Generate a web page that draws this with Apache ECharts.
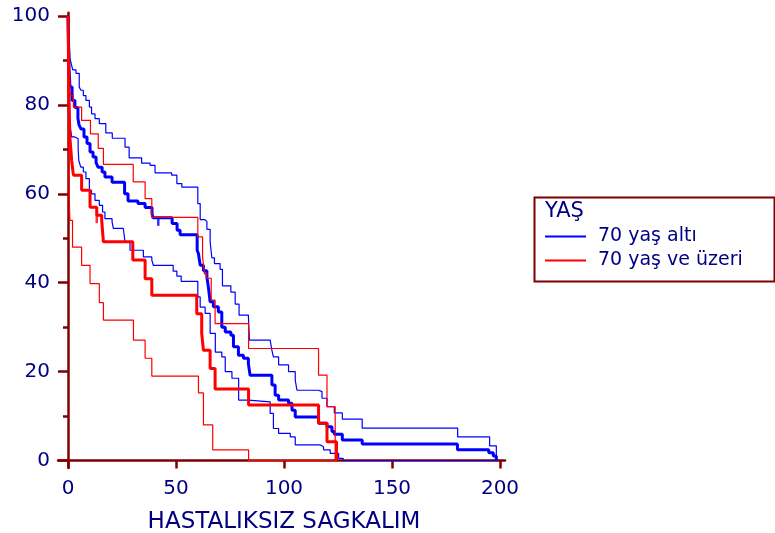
<!DOCTYPE html>
<html><head><meta charset="utf-8">
<script src="https://cdn.jsdelivr.net/npm/echarts@6/dist/echarts.min.js"></script>
<style>html,body{margin:0;padding:0;background:#fff}#c{width:775px;height:533px}</style>
</head><body><div id="c"></div>
<script>
// ---- labels ----
const groupNames = ['70 yaş altı', '70 yaş ve üzeri'];
const legendTitle = 'YAŞ';
const xAxisTitle = 'HASTALIKSIZ SAGKALIM';
const xTickValues = [0, 50, 100, 150, 200];
const yTickValues = [0, 20, 40, 60, 80, 100];

// ---- Kaplan-Meier estimates [time, survival %] (value after each step) ----
const blueKM = [[0,100],[0.5,88],[0.9,84],[1.9,81],[3.2,79.4],[4.6,77],[5.1,75.5],[6,74.6],[7.4,72.8],[8.8,71.3],[10.2,69.4],[11.6,68.3],[13,67],[13.9,66],[15.8,64.9],[17.1,63.8],[20.4,62.6],[26.2,60],[27.8,58.4],[32.4,57.8],[35.7,56.9],[38.9,55.5],[39.4,54.6],[48.2,53.3],[50.5,51.8],[51.9,50.8],[59.8,47.3],[60.4,46.5],[61.2,43.9],[62.7,42.7],[64.3,41.3],[65,39],[65.8,35.7],[67.3,34.6],[69.6,33.4],[71.2,30],[72.8,28.9],[75.4,28.2],[76.6,25.6],[78.9,23.7],[81.2,23],[83.5,21.8],[84.3,19.2],[94.4,17],[95.9,14.7],[97.5,13.6],[102.1,12.9],[103.7,11.3],[105.2,9.8],[116,8.4],[119.9,7.6],[122.2,6.5],[123.3,5.9],[127,4.6],[136.2,3.7],[180.3,2.4],[194.8,1.75],[196.9,1],[198.3,0]];
const blueUpper = [[0,100],[0.9,90.4],[1.5,89.3],[2.2,87.9],[3.7,87.1],[5.2,84],[6,83.3],[7.1,82.1],[8.3,81],[9.9,79.5],[10.9,78],[12.5,76.9],[14.5,75.8],[17.5,73.7],[20.5,72.5],[26.4,70.5],[28.3,68.1],[34.1,66.9],[38,66.4],[40.3,64.7],[48,64.2],[50.4,62.3],[52.7,61.5],[60.1,57.8],[61.2,54.2],[63.2,53.8],[64.3,52],[65.8,49.2],[66.6,45.6],[67.8,44.3],[70.4,43],[71.5,39.3],[75.4,37.9],[77.4,35.2],[79.2,32.7],[83.5,32.3],[84,27.1],[93.6,26.7],[94.4,24.8],[95.1,23.3],[97.5,21.5],[102.1,20],[105.2,18.1],[106,15.8],[116,15.5],[117.6,14],[119.9,12.1],[123.3,10.7],[127,9.3],[136.2,7.3],[180.4,5.3],[195.2,3.3],[198.3,0]];
const blueLower = [[0,100],[0.9,75.4],[1.7,72.8],[3.2,72.4],[4.7,70.2],[5,67.5],[5.9,66],[7.1,64.9],[8.3,63.4],[9.9,60.8],[10.9,60],[12.5,58.5],[14.5,57.4],[16,55.9],[17.1,54.4],[20.4,53.7],[21,52.2],[25.6,51.8],[26.4,49.2],[28.7,47.3],[34.9,45.8],[38.8,45.1],[39.5,43.9],[48.7,42.6],[50.4,41.5],[52.4,40.3],[60.1,36.8],[61.2,34.5],[63.5,33.1],[65.8,28.6],[68.2,24.4],[71.2,23.3],[72.8,20],[75.9,18.5],[79,13.6],[83.5,13.2],[93.6,10.6],[95.1,7.2],[97.5,6.1],[102.9,5.3],[105.2,3.5],[116.8,3.1],[118.3,2.4],[121.4,1.6],[125.3,0.5],[127.4,0],[198.3,0]];
const redKM = [[0,100],[0.5,80],[0.9,72.5],[1.7,67.5],[2.5,64.2],[6.3,60.8],[10.2,57],[13.3,55.2],[15.6,54],[16.4,49.2],[30,45.1],[35.7,40.9],[38.8,37.2],[59.6,33],[61.9,28.6],[62.7,24.8],[65.8,20.7],[68.1,16.1],[83.6,12.5],[116,8.4],[119.9,4.2],[124.3,0]];
const redUpper = [[0,100],[0.5,87],[1,82.1],[2.5,79.5],[6.3,76.5],[10.4,73.5],[14,70.2],[16.4,66.6],[30.2,62.7],[35.7,58.9],[38.8,54.7],[60.1,50.3],[62.3,45.8],[63.2,42],[64.3,41],[66.3,36.1],[68.1,30.8],[83.6,25.2],[116,19.2],[119.9,12.1],[123.7,0]];
const redLower = [[0,100],[0.5,60],[0.9,54],[2.1,48],[6.3,43.9],[10.2,39.8],[14.5,35.5],[16.4,31.6],[30.3,27.1],[35.7,23],[38.8,19],[60.4,15.2],[62.7,8],[67,2.4],[83.6,0],[124.3,0]];
// censored observations
const blueCensored = [[41.8,54.6]];
const redCensored = [[13.3,55.2]];

const AXIS = '#800000', TXT = '#000080', FONT = 'DejaVu Sans';
const BLUE = '#0000ff', RED = '#ff0000';

function kmLine(name, data, color, width) {
  return {name, type:'line', data, step:'end', xAxisIndex:1, yAxisIndex:1, showSymbol:false,
    symbol:'none', clip:false, silent:true, color,
    lineStyle:{color, width}, itemStyle:{color}};
}
function censor(name, data, color) {
  return {name, type:'scatter', data, xAxisIndex:1, yAxisIndex:1, symbol:'rect',
    symbolSize:[2.5,8], symbolOffset:[0,4], itemStyle:{color}, silent:true};
}

const xMin = xTickValues[0], xMax = xTickValues[xTickValues.length-1];
const yMin = yTickValues[0], yMax = yTickValues[yTickValues.length-1];
const xPx = 432 / (xMax - xMin), yPx = 444.5 / (yMax - yMin);

const chart = echarts.init(document.getElementById('c'), null, {renderer:'canvas'});
chart.setOption({
  animation:false,
  backgroundColor:'#fff',
  grid:[
    {left:58, top:12.7, width:447, height:455.3, containLabel:false, outerBoundsMode:'none'},
    {left:68, top:16, width:432, height:444.5, containLabel:false, outerBoundsMode:'none'}
  ],
  xAxis:[
    {gridIndex:0, type:'value', min:xMin - 10/xPx, max:xMax + 5/xPx,
      axisLine:{onZero:true, lineStyle:{color:AXIS, width:2.5}}, axisTick:{show:false},
      axisLabel:{show:false}, splitLine:{show:false}},
    {gridIndex:1, type:'value', min:xMin, max:xMax, interval:xTickValues[1]-xTickValues[0],
      axisLine:{show:false},
      axisTick:{show:true, length:8, lineStyle:{color:AXIS, width:2.5}},
      axisLabel:{color:TXT, fontFamily:FONT, fontSize:20, margin:18},
      splitLine:{show:false},
      name:xAxisTitle, nameLocation:'middle', nameGap:50,
      nameTextStyle:{color:TXT, fontFamily:FONT, fontSize:23}}
  ],
  yAxis:[
    {gridIndex:0, type:'value', min:yMin - 7.5/yPx, max:yMax + 3.3/yPx,
      axisLine:{onZero:true, lineStyle:{color:AXIS, width:2.5}}, axisTick:{show:false},
      axisLabel:{show:false}, splitLine:{show:false}},
    {gridIndex:1, type:'value', min:yMin, max:yMax, interval:yTickValues[1]-yTickValues[0],
      axisLine:{show:false},
      axisTick:{show:true, length:10, lineStyle:{color:AXIS, width:2.5}},
      minorTick:{show:true, splitNumber:2, length:5, lineStyle:{color:AXIS, width:2.5}},
      axisLabel:{color:TXT, fontFamily:FONT, fontSize:20, margin:18},
      splitLine:{show:false}}
  ],
  legend:{
    orient:'vertical', left:545, top:227, padding:0, itemWidth:41, itemHeight:2,
    itemGap:5, icon:'rect', selectedMode:false,
    data:groupNames,
    textStyle:{color:TXT, fontFamily:FONT, fontSize:19, padding:[0,0,0,7]}
  },
  graphic:[
    {type:'rect', left:532, top:195, shape:{width:240, height:84},
      style:{fill:null, stroke:AXIS, lineWidth:2}, silent:true},
    {type:'text', left:545, top:201,
      style:{text:legendTitle, fill:TXT, font:'21px "DejaVu Sans"'}, silent:true}
  ],
  series:[
    kmLine(groupNames[0] + ' üst', blueUpper, BLUE, 1.2),
    kmLine(groupNames[0] + ' alt', blueLower, BLUE, 1.2),
    kmLine(groupNames[0], blueKM, BLUE, 3),
    censor(groupNames[0] + ' sansür', blueCensored, BLUE),
    kmLine(groupNames[1] + ' üst', redUpper, RED, 1.2),
    kmLine(groupNames[1] + ' alt', redLower, RED, 1.2),
    kmLine(groupNames[1], redKM, RED, 3),
    censor(groupNames[1] + ' sansür', redCensored, RED)
  ]
});
</script></body></html>
